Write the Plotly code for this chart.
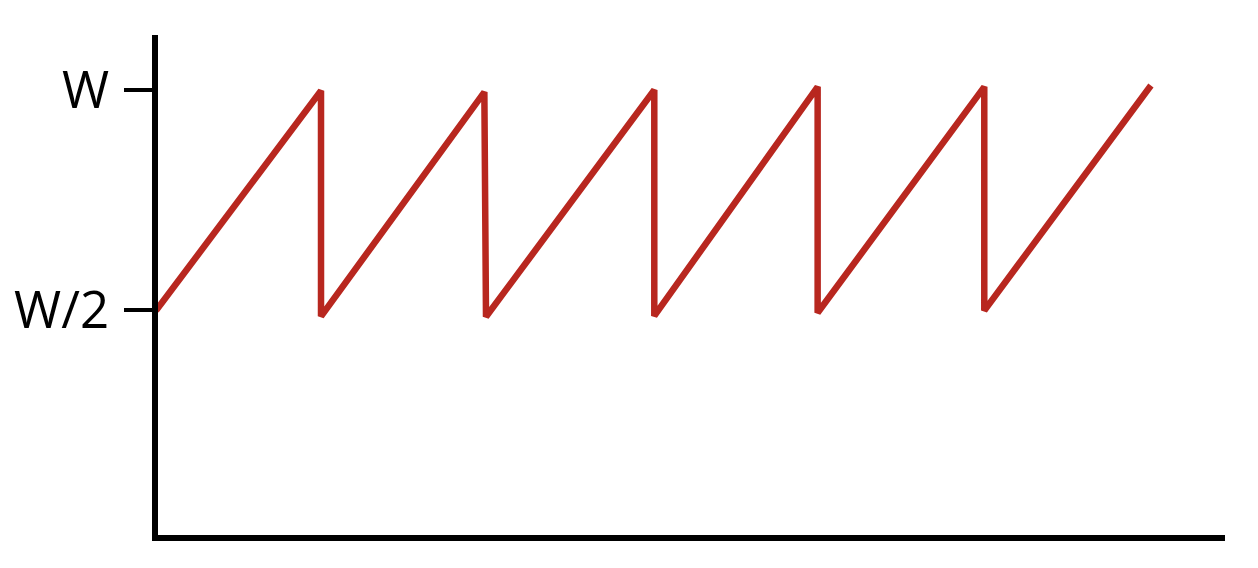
import plotly.graph_objects as go

# Sawtooth (congestion window) data, time in RTT-like units, window as fraction of W
time = [0.0, 1.0, 1.0, 1.99, 2.0, 3.02, 3.02, 4.01, 4.01, 5.02, 5.02, 6.03]
window = [0.498, 0.998, 0.485, 0.995, 0.484, 1.0, 0.486, 1.007, 0.493, 1.007, 0.498, 1.01]

tick_vals = [0.5, 1.0]
tick_text = ["W/2", "W"]

fig = go.Figure()
fig.add_trace(go.Scatter(
    x=time, y=window, mode="lines",
    line=dict(color="#B8271F", width=6.5, shape="linear"),
    hoverinfo="skip", showlegend=False,
))

fig.update_layout(
    width=1250, height=560,
    margin=dict(l=150, r=33, t=27, b=32.5, autoexpand=False),
    paper_bgcolor="white", plot_bgcolor="white",
    font=dict(family="Open Sans, Noto Sans, sans-serif", color="black"),
)
fig.update_xaxes(
    range=[0.012, 6.479], showline=True, linecolor="black", linewidth=5.5,
    showgrid=False, zeroline=False, showticklabels=False, ticks="",
    automargin=False,
)
fig.update_yaxes(
    range=[-0.0125, 1.125], showline=True, linecolor="black", linewidth=5.5,
    showgrid=False, zeroline=False,
    tickmode="array", tickvals=tick_vals, ticktext=tick_text,
    ticks="outside", ticklen=28, tickwidth=3.5, tickcolor="black",
    ticklabelstandoff=5, automargin=False,
    tickfont=dict(size=51, color="black"),
)

fig.write_html("out.html")
